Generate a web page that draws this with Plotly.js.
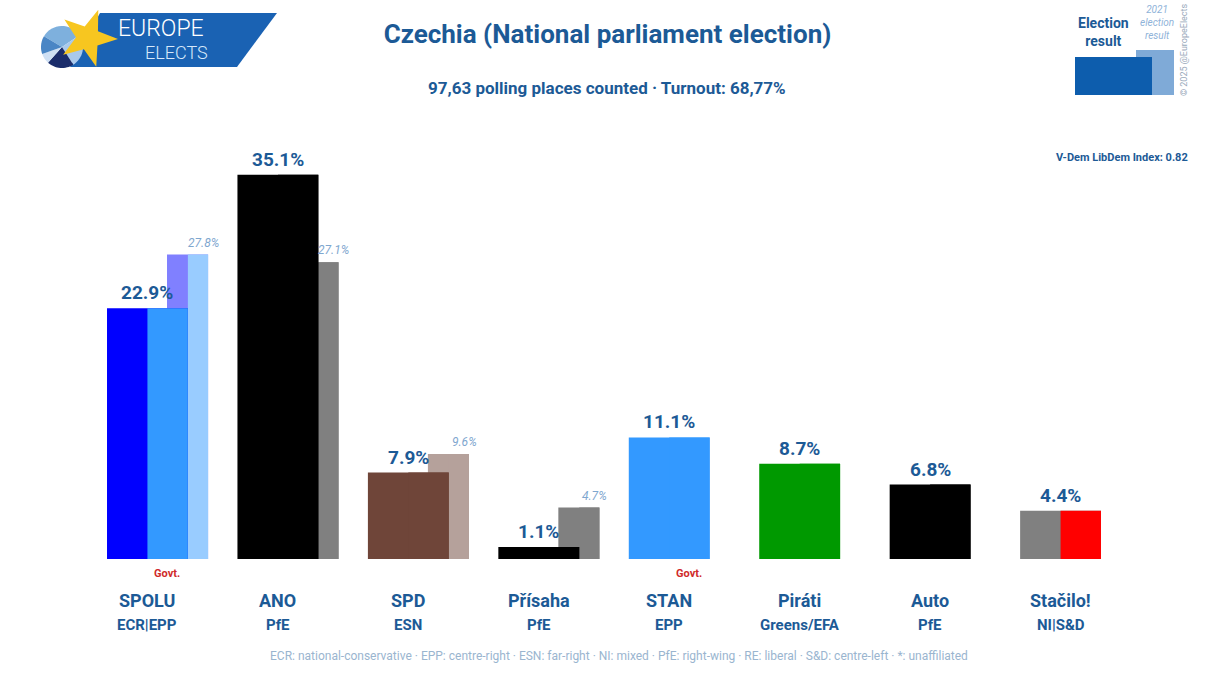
<!DOCTYPE html>
<html>
<head>
<meta charset="utf-8">
<script src="https://cdn.plot.ly/plotly-3.0.1.min.js"></script>
<style>html,body{margin:0;padding:0;background:#fff;}#chart{width:1215px;height:700px;}</style>
</head>
<body>
<div id="chart"></div>
<script>
// ---- data ----
const parties = ['SPOLU', 'ANO', 'SPD', 'Přísaha', 'STAN', 'Piráti', 'Auto', 'Stačilo!'];
const groups = ['ECR|EPP', 'PfE', 'ESN', 'PfE', 'EPP', 'Greens/EFA', 'PfE', 'NI|S&D'];
const result2025 = [22.9, 35.1, 7.9, 1.1, 11.1, 8.7, 6.8, 4.4];
const result2021 = [27.8, 27.1, 9.6, 4.7, null, null, null, null];
const govt = [true, false, false, false, true, false, false, false];
const colorsLeft = ['#0000ff', '#000000', '#6f4539', '#000000', '#3399ff', '#009900', '#000000', '#808080'];
const colorsRight = ['#3399ff', '#000000', '#6f4539', '#000000', '#3399ff', '#009900', '#000000', '#ff0000'];
const prevColorsLeft = ['#8080ff', '#808080', '#b5a19b', '#808080', null, null, null, null];
const prevColorsRight = ['#99ccff', '#808080', '#b5a19b', '#808080', null, null, null, null];
const footnote = 'ECR: national-conservative · EPP: centre-right · ESN: far-right · NI: mixed · PfE: right-wing · RE: liberal · S&D: centre-left · *: unaffiliated';

// ---- layout helpers ----
const W = 1215, H = 700;
const M = {l: 17, r: 24, t: 121, b: 141};
const PW = W - M.l - M.r, PH = H - M.t - M.b;
const X = px => (px - M.l) / PW;
const Y = py => (H - M.b - py) / PH;
const FONT = 'Roboto, "Open Sans", sans-serif';
const BLUE = '#1c5a96';
const idx = parties.map((_, i) => i);

const traces = [
  // 2021 results (behind): full bar in left colour, right half overlaid
  {type: 'bar', x: idx, y: result2021, offset: 0.15, width: 0.315, marker: {color: prevColorsLeft, line: {width: 0}}, hoverinfo: 'skip'},
  {type: 'bar', x: idx, y: result2021, offset: 0.31, width: 0.155, marker: {color: prevColorsRight, line: {width: 0}}, hoverinfo: 'skip'},
  // 2025 results
  {type: 'bar', x: idx, y: result2025, offset: -0.31, width: 0.62, marker: {color: colorsLeft, line: {width: 0}}, hoverinfo: 'skip'},
  {type: 'bar', x: idx, y: result2025, offset: 0, width: 0.31, marker: {color: colorsRight, line: {width: 0}}, hoverinfo: 'skip'}
];

const ann = [];
result2025.forEach((v, i) => {
  ann.push({x: i, y: v, xref: 'x', yref: 'y', text: '<b>' + v.toFixed(1) + '%</b>', showarrow: false,
    xanchor: 'center', yanchor: 'bottom', yshift: 2, font: {family: FONT, size: 19, color: BLUE}});
});
result2021.forEach((v, i) => {
  if (v === null) return;
  ann.push({x: i + 0.43, y: v, xref: 'x', yref: 'y', text: '<i>' + v.toFixed(1) + '%</i>', showarrow: false,
    xanchor: 'center', yanchor: 'bottom', yshift: 3, font: {family: FONT, size: 12, color: '#7fa7cf'}});
});
parties.forEach((p, i) => {
  ann.push({x: i, y: 0, xref: 'x', yref: 'paper', text: '<b>' + p + '</b>', showarrow: false,
    xanchor: 'center', yanchor: 'middle', yshift: -41, font: {family: FONT, size: 18, color: BLUE}});
  ann.push({x: i, y: 0, xref: 'x', yref: 'paper', text: '<b>' + groups[i] + '</b>', showarrow: false,
    xanchor: 'center', yanchor: 'middle', yshift: -66, font: {family: FONT, size: 15, color: BLUE}});
  if (govt[i]) {
    ann.push({x: i + 0.15, y: 0, xref: 'x', yref: 'paper', text: '<b>Govt.</b>', showarrow: false,
      xanchor: 'center', yanchor: 'middle', yshift: -14, font: {family: FONT, size: 11, color: '#d02a2a'}});
  }
});
ann.push({x: X(607), y: Y(88), xref: 'paper', yref: 'paper', text: '<b>97,63 polling places counted · Turnout: 68,77%</b>',
  showarrow: false, xanchor: 'center', yanchor: 'middle', font: {family: FONT, size: 17, color: BLUE}});
ann.push({x: X(1190), y: Y(157), xref: 'paper', yref: 'paper', text: '<b>V-Dem LibDem Index: 0.82</b>', showarrow: false,
  xanchor: 'right', yanchor: 'middle', font: {family: FONT, size: 11, color: BLUE}});
ann.push({x: X(619), y: Y(656), xref: 'paper', yref: 'paper', text: footnote, showarrow: false,
  xanchor: 'center', yanchor: 'middle', font: {family: FONT, size: 12, color: '#9ab5cf'}});
ann.push({x: X(161), y: Y(29), xref: 'paper', yref: 'paper', text: 'EUROPE', showarrow: false,
  xanchor: 'center', yanchor: 'middle', font: {family: FONT, size: 23, weight: 300, color: '#ffffff'}});
ann.push({x: X(176), y: Y(53), xref: 'paper', yref: 'paper', text: 'ELECTS', showarrow: false,
  xanchor: 'center', yanchor: 'middle', font: {family: FONT, size: 18, weight: 300, color: '#d6e8fa'}});
ann.push({x: X(1103), y: Y(32), xref: 'paper', yref: 'paper', text: '<b>Election<br>result</b>', showarrow: false,
  xanchor: 'center', yanchor: 'middle', font: {family: FONT, size: 14, color: BLUE}});
ann.push({x: X(1157), y: Y(22), xref: 'paper', yref: 'paper', text: '<i>2021<br>election<br>result</i>', showarrow: false,
  xanchor: 'center', yanchor: 'middle', font: {family: FONT, size: 10, color: '#8fb3d9'}});
ann.push({x: X(1184), y: Y(50), xref: 'paper', yref: 'paper', text: '© 2025 @EuropeElects', showarrow: false, textangle: -90,
  xanchor: 'center', yanchor: 'middle', font: {family: FONT, size: 9, color: '#9aaabb'}});

function pathFrom(pts) {
  return 'M' + pts.map(p => X(p[0]).toFixed(5) + ',' + Y(p[1]).toFixed(5)).join('L') + 'Z';
}
function starPts(cx, cy, ro, ri, rot) {
  const pts = [];
  for (let k = 0; k < 10; k++) {
    const r = k % 2 === 0 ? ro : ri;
    const a = rot + k * Math.PI / 5;
    pts.push([cx + r * Math.sin(a), cy - r * Math.cos(a)]);
  }
  return pts;
}
function wedgePts(cx, cy, r, a0, a1) {
  const pts = [[cx, cy]];
  for (let k = 0; k <= 16; k++) {
    const a = a0 + (a1 - a0) * k / 16;
    pts.push([cx + r * Math.cos(a), cy + r * Math.sin(a)]);
  }
  return pts;
}
const shapes = [
  {type: 'path', xref: 'paper', yref: 'paper', path: pathFrom([[100, 13], [277, 13], [237, 67], [70, 67]]), fillcolor: '#1a62b3', line: {width: 0}},
  {type: 'path', xref: 'paper', yref: 'paper', path: pathFrom(wedgePts(62, 47, 21, -2.6, -0.6)), fillcolor: '#7eb0dd', line: {width: 0}},
  {type: 'path', xref: 'paper', yref: 'paper', path: pathFrom(wedgePts(62, 47, 21, -0.6, 1.0)), fillcolor: '#a9c9ec', line: {width: 0}},
  {type: 'path', xref: 'paper', yref: 'paper', path: pathFrom(wedgePts(62, 47, 21, 1.0, 2.3)), fillcolor: '#1b2d6b', line: {width: 0}},
  {type: 'path', xref: 'paper', yref: 'paper', path: pathFrom(wedgePts(62, 47, 21, 2.3, 2.8)), fillcolor: '#cfe0f4', line: {width: 0}},
  {type: 'path', xref: 'paper', yref: 'paper', path: pathFrom(wedgePts(62, 47, 21, 2.8, 3.68)), fillcolor: '#4a86c5', line: {width: 0}},
  {type: 'path', xref: 'paper', yref: 'paper', path: pathFrom(starPts(88, 38, 30, 12, 0.35)), fillcolor: '#f7c620', line: {width: 0}},
  {type: 'rect', xref: 'paper', yref: 'paper', x0: X(1136), x1: X(1174), y0: Y(95), y1: Y(50), fillcolor: '#7faad7', line: {width: 0}},
  {type: 'rect', xref: 'paper', yref: 'paper', x0: X(1075), x1: X(1152), y0: Y(95), y1: Y(57), fillcolor: '#0d5dad', line: {width: 0}}
];

const layout = {
  width: W, height: H,
  margin: M,
  paper_bgcolor: '#ffffff', plot_bgcolor: '#ffffff',
  barmode: 'overlay',
  showlegend: false,
  title: {text: '<b>Czechia (National parliament election)</b>', x: 0.5, xanchor: 'center', y: 1 - 34 / H, yanchor: 'middle',
    font: {family: FONT, size: 26, color: BLUE}},
  xaxis: {range: [-1, 8], showgrid: false, zeroline: false, showticklabels: false, ticks: '', showline: false, fixedrange: true},
  yaxis: {range: [0, 40], showgrid: false, zeroline: false, showticklabels: false, ticks: '', showline: false, fixedrange: true},
  annotations: ann,
  shapes: shapes,
  font: {family: FONT}
};

Plotly.newPlot('chart', traces, layout, {displayModeBar: false, staticPlot: true});
</script>
</body>
</html>
